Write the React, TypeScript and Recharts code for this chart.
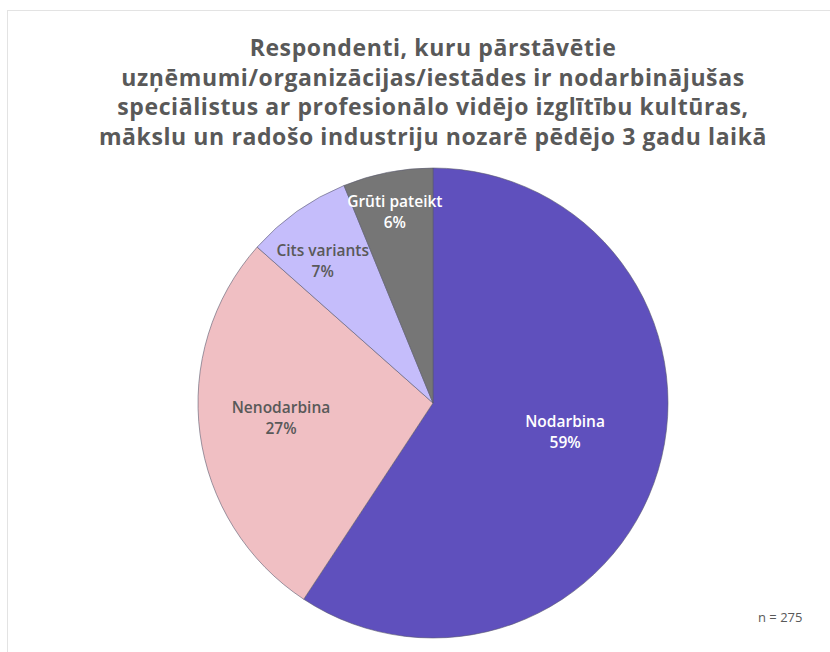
import React from "react";
import { PieChart, Pie, Cell } from "recharts";

const categories = ["Nodarbina", "Nenodarbina", "Cits variants", "Grūti pateikt"];
const counts = [163, 75, 20, 17];
const percentLabels = ["59%", "27%", "7%", "6%"];
const titleLines = [
  "Respondenti, kuru pārstāvētie",
  "uzņēmumi/organizācijas/iestādes ir nodarbinājušas",
  "speciālistus ar profesionālo vidējo izglītību kultūras,",
  "mākslu un radošo industriju nozarē pēdējo 3 gadu laikā",
];
const sampleNote = "n = 275";

const colors = ["#5f50bd", "#f0bfc3", "#c5bdfb", "#767676"];
const labelColors = ["#ffffff", "#595959", "#595959", "#ffffff"];
// label placement style: [radius fraction, angle shift in degrees]
const labelPlacement: [number, number][] = [
  [0.576, 4.1],
  [0.65, -1.8],
  [0.763, 2.6],
  [0.827, 0.2],
];
const FONT = "'Open Sans', sans-serif";

const data = categories.map((name, i) => ({ name, value: counts[i], pct: percentLabels[i] }));

const RAD = Math.PI / 180;

const renderLabel = (props: any) => {
  const { cx, cy, midAngle, outerRadius, index } = props;
  const [frac, shift] = labelPlacement[index];
  const r = outerRadius * frac;
  const a = midAngle + shift;
  const x = cx + r * Math.cos(-a * RAD);
  const y = cy + r * Math.sin(-a * RAD);
  return (
    <text
      x={x}
      y={y}
      textAnchor="middle"
      fill={labelColors[index]}
      fontFamily={FONT}
      fontSize={15.5}
      fontWeight={600}
    >
      <tspan x={x} dy={-5.5}>{data[index].name}</tspan>
      <tspan x={x} dy={21}>{data[index].pct}</tspan>
    </text>
  );
};

export default function App() {
  return (
    <div style={{ position: "absolute", left: 0, top: 0, width: 830, height: 652, background: "#fff", overflow: "hidden" }}>
      <div
        style={{
          position: "absolute",
          left: 7,
          top: 10,
          width: 900,
          height: 700,
          borderTop: "1px solid #e3e3e3",
          borderLeft: "1px solid #e3e3e3",
        }}
      />
      <div
        style={{
          position: "absolute",
          left: 0,
          top: 33,
          width: 866,
          textAlign: "center",
          fontFamily: FONT,
          fontWeight: 700,
          fontSize: 23,
          letterSpacing: 0.6,
          lineHeight: "29.5px",
          color: "#595959",
        }}
      >
        {titleLines.map((l, i) => (
          <div key={i}>{l}</div>
        ))}
      </div>
      <div style={{ position: "absolute", left: 0, top: 0 }}>
        <PieChart width={830} height={652} margin={{ top: 0, right: 0, bottom: 0, left: 0 }}>
          <Pie
            data={data}
            dataKey="value"
            nameKey="name"
            cx={433}
            cy={403}
            outerRadius={235}
            startAngle={90}
            endAngle={-270}
            stroke="#5a5a6e"
            strokeWidth={0.6}
            isAnimationActive={false}
            labelLine={false}
            label={renderLabel}
          >
            {data.map((d, i) => (
              <Cell key={d.name} fill={colors[i]} />
            ))}
          </Pie>
        </PieChart>
      </div>
      <div
        style={{
          position: "absolute",
          left: 758,
          top: 608,
          fontFamily: FONT,
          fontSize: 13,
          color: "#595959",
        }}
      >
        {sampleNote}
      </div>
    </div>
  );
}
